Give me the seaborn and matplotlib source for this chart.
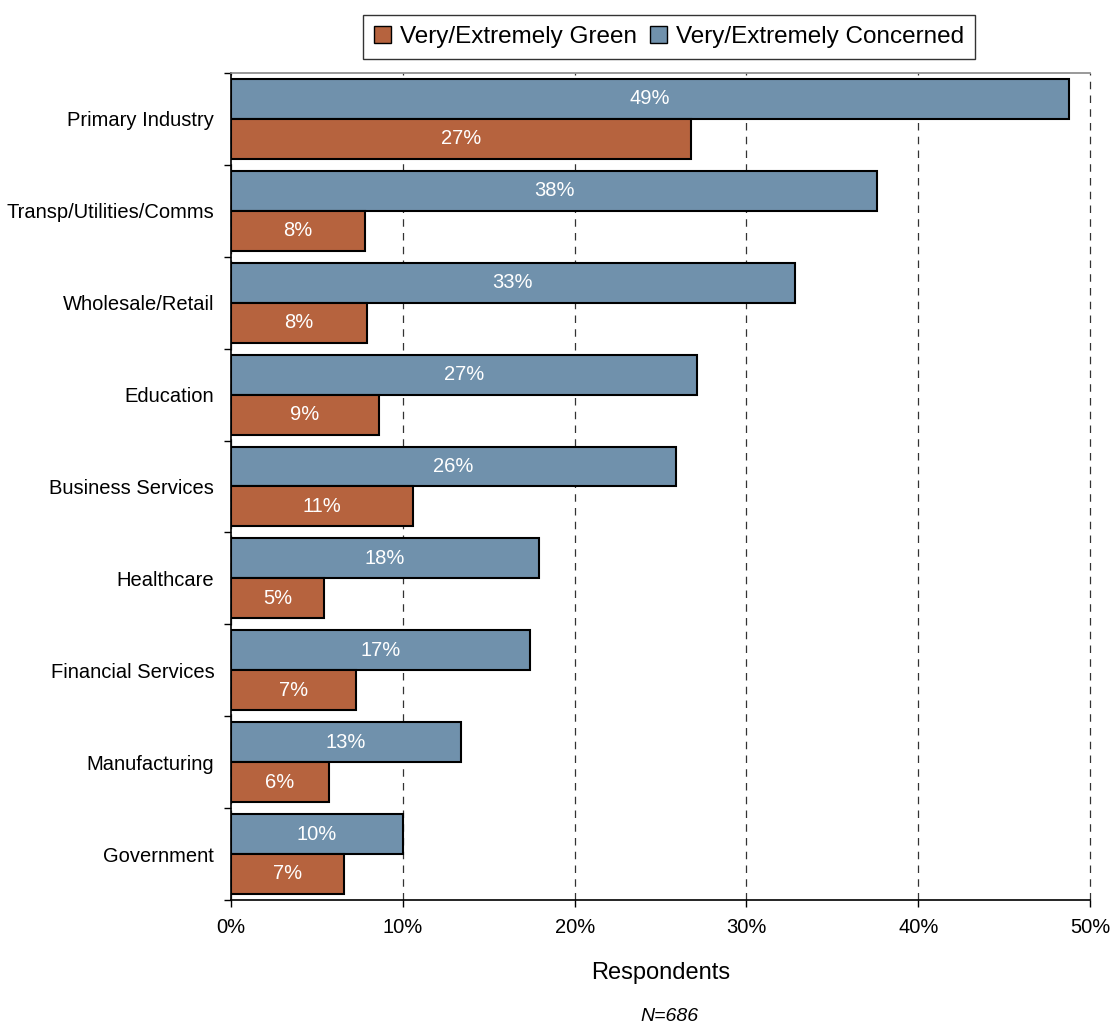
import matplotlib
matplotlib.use('Agg')
import matplotlib.pyplot as plt
from matplotlib.patches import Patch
from matplotlib.ticker import FixedLocator, PercentFormatter
import seaborn as sns
import pandas as pd

# データ
industries = ['Primary Industry', 'Transp/Utilities/Comms', 'Wholesale/Retail',
              'Education', 'Business Services', 'Healthcare',
              'Financial Services', 'Manufacturing', 'Government']
concerned = [48.8, 37.6, 32.8, 27.1, 25.9, 17.9, 17.4, 13.4, 10.0]
green = [26.8, 7.8, 7.9, 8.6, 10.6, 5.4, 7.3, 5.7, 6.6]
series_names = ['Very/Extremely Green', 'Very/Extremely Concerned']
colors = {'Very/Extremely Green': '#B6633E', 'Very/Extremely Concerned': '#7091AC'}

df = pd.DataFrame({
    'industry': industries * 2,
    'value': concerned + green,
    'series': [series_names[1]] * len(industries) + [series_names[0]] * len(industries),
})

sns.set_style('white')
plt.rcParams['font.family'] = ['Liberation Sans', 'DejaVu Sans']
plt.rcParams['text.color'] = 'black'
plt.rcParams['xtick.color'] = 'black'
plt.rcParams['ytick.color'] = 'black'
plt.rcParams['axes.labelcolor'] = 'black'

fig = plt.figure(figsize=(11.15, 10.33), dpi=100)
ax = fig.add_axes([0.2072, 0.1288, 0.7704, 0.8005])

sns.barplot(data=df, x='value', y='industry', hue='series',
            order=industries, hue_order=[series_names[1], series_names[0]],
            palette=colors, orient='h', width=0.87, dodge=True,
            edgecolor='black', linewidth=1.5, saturation=1, legend=False, ax=ax)

# バーのラベル（白文字、中央）
for container in ax.containers:
    ax.bar_label(container, labels=[f'{v:.0f}%' for v in container.datavalues],
                 label_type='center', color='white', fontsize=14.5)

ax.set_xlim(0, 50)
ax.set_xticks([0, 10, 20, 30, 40, 50])
ax.xaxis.set_major_formatter(PercentFormatter(decimals=0))
ax.grid(axis='x', linestyle=(0, (6, 5)), color='#333333', linewidth=0.9)
ax.set_axisbelow(True)
for line in ax.get_xgridlines():
    line.set_clip_on(False)

# カテゴリ境界にティック
n = len(industries)
ax.set_ylim(n - 0.5, -0.5)
ax.yaxis.set_minor_locator(FixedLocator([i - 0.5 for i in range(n + 1)]))
ax.tick_params(axis='y', which='major', length=0, labelsize=14.5, pad=12)
ax.tick_params(axis='y', which='minor', length=5, width=1, color='black', left=True)
ax.tick_params(axis='x', which='major', length=5, width=1, color='black', bottom=True,
               labelsize=14.5, pad=8)

for side in ['left', 'bottom']:
    ax.spines[side].set_color('black')
    ax.spines[side].set_linewidth(1.2)
ax.spines['top'].set_color('#888888')
ax.spines['top'].set_linewidth(1.2)
ax.spines['right'].set_visible(False)

ax.set_ylabel('')
ax.set_xlabel('Respondents', fontsize=17, labelpad=18)

fig.text(0.6, 0.008, 'N=686', ha='center', va='bottom', fontsize=14, style='italic')

handles = [Patch(facecolor=colors[s], edgecolor='black', linewidth=1) for s in series_names]
leg = fig.legend(handles, series_names, loc='upper center', bbox_to_anchor=(0.6, 0.997),
                 ncol=2, frameon=True, fancybox=False, fontsize=17.5,
                 handlelength=0.7, handleheight=0.7, handletextpad=0.4,
                 columnspacing=0.5, borderpad=0.45)
leg.get_frame().set_edgecolor('black')
leg.get_frame().set_linewidth(1)

fig.savefig('out.png', dpi=100)
